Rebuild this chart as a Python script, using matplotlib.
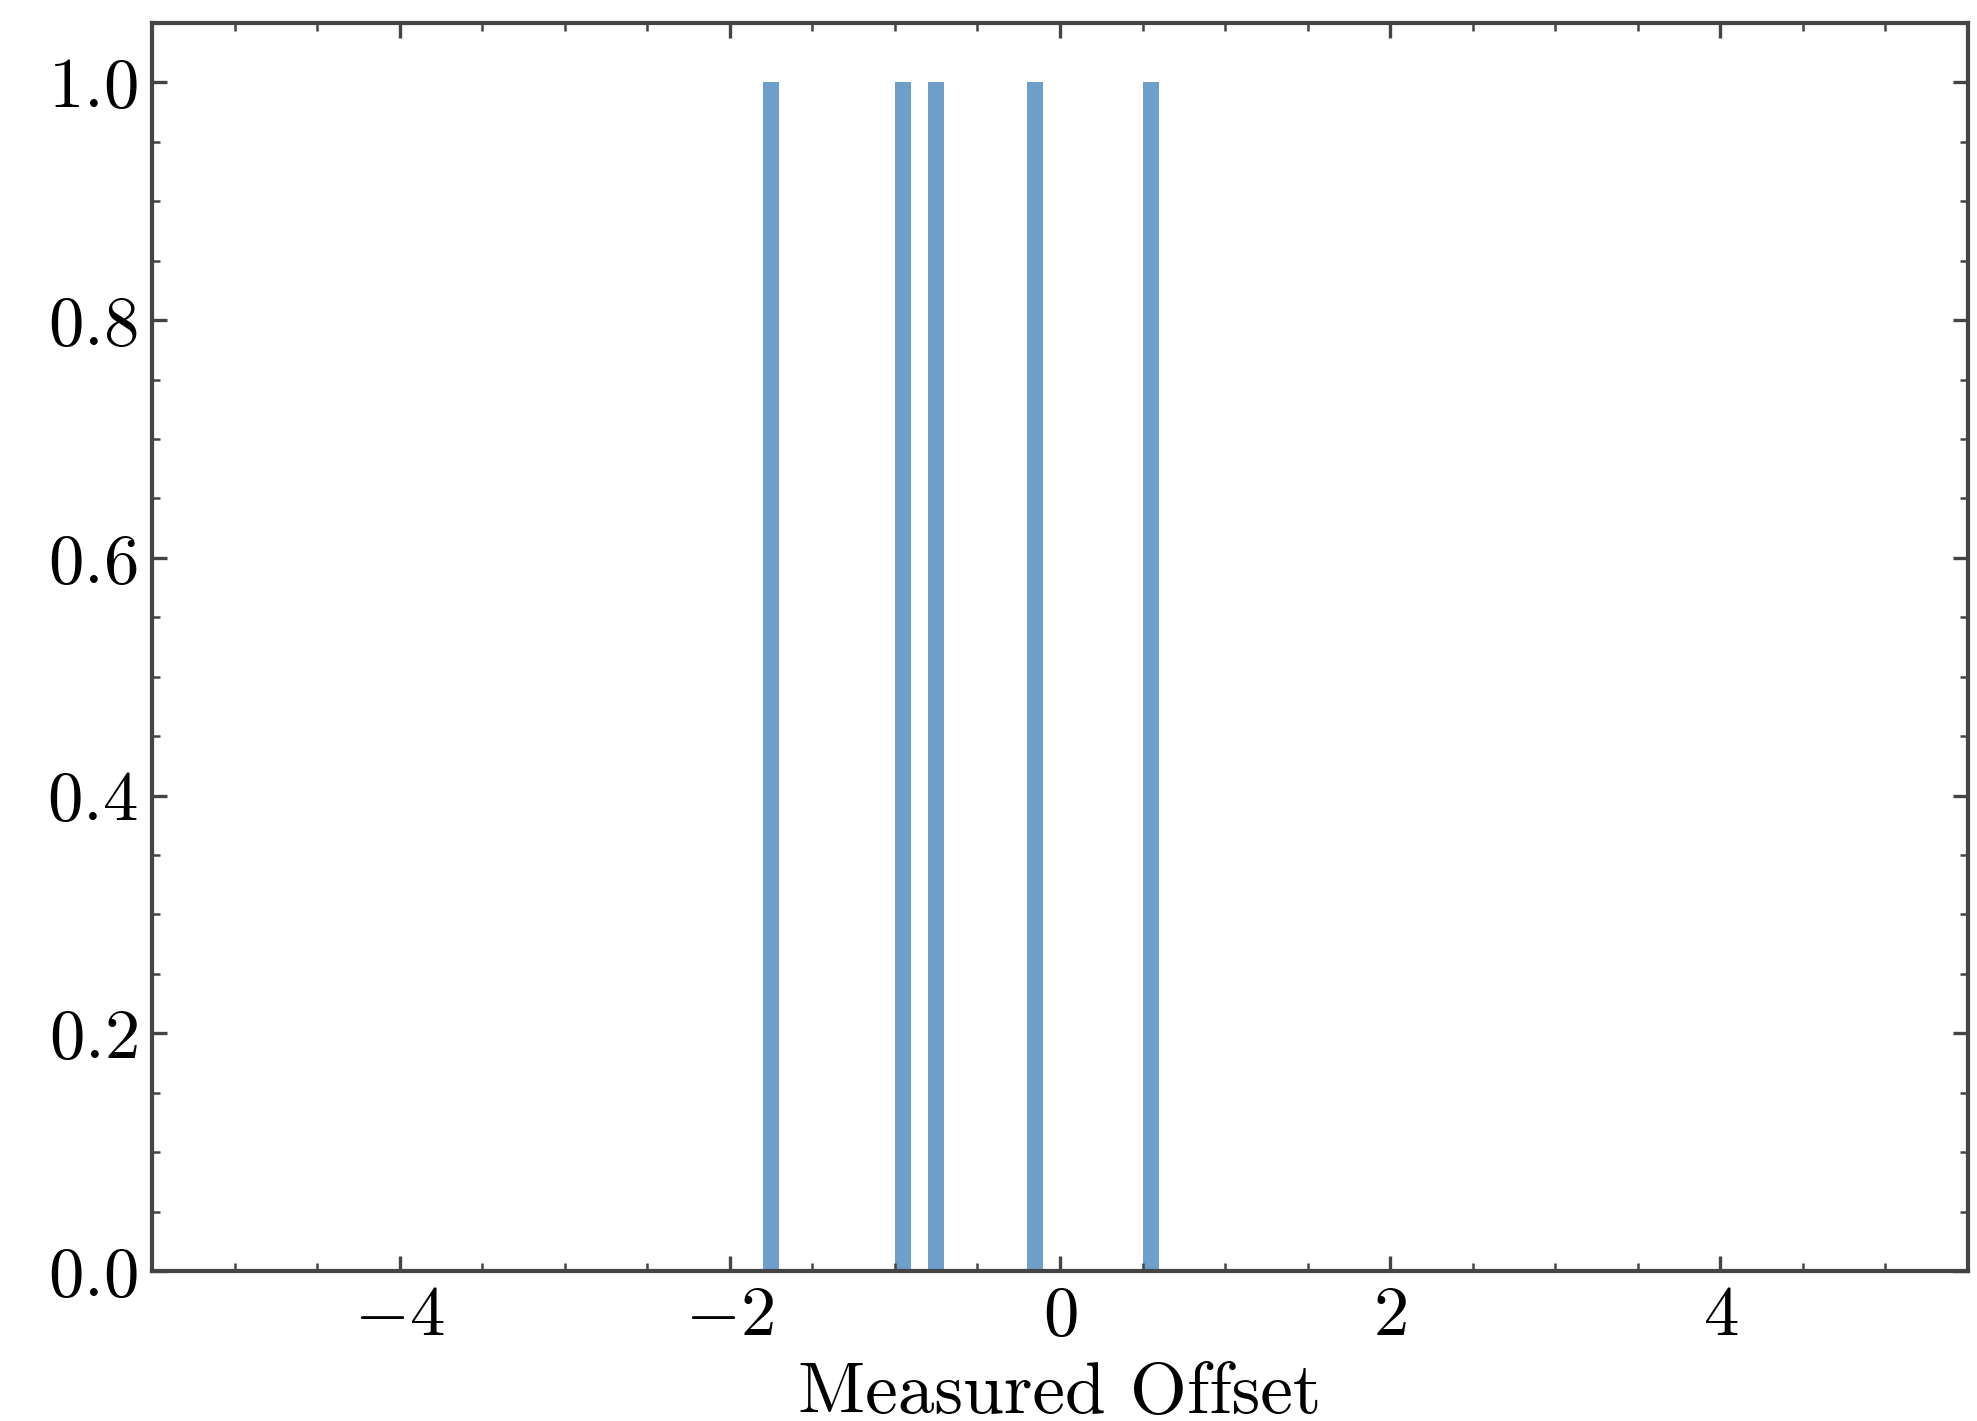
import matplotlib
matplotlib.use("Agg")
import matplotlib.pyplot as plt
from matplotlib.ticker import AutoMinorLocator

# Offsets measured (one sample per bin)
offsets = [-1.75, -0.95, -0.75, -0.15, 0.55]
n_bins = 100
hist_range = (-5, 5)

plt.rcParams["font.family"] = "cmr10"
plt.rcParams["mathtext.fontset"] = "cm"
plt.rcParams["axes.formatter.use_mathtext"] = True
plt.rcParams["axes.unicode_minus"] = True

fig = plt.figure(figsize=(1977 / 300, 1421 / 300), dpi=300)
ax = fig.add_axes([152 / 1977, 1 - 1271 / 1421, (1968 - 152) / 1977, (1271 - 23) / 1421])

ax.hist(offsets, bins=n_bins, range=hist_range, color="#6e9eca")

ax.set_xlabel("Measured Offset", fontsize=17.6, labelpad=3)

for side in ax.spines.values():
    side.set_color("#444444")
    side.set_linewidth(1.0)

ax.xaxis.set_minor_locator(AutoMinorLocator())
ax.yaxis.set_minor_locator(AutoMinorLocator())
ax.tick_params(which="both", direction="in", top=True, right=True,
               color="#444444", labelsize=17)
ax.tick_params(which="major", length=3.6, width=0.8)
ax.tick_params(which="minor", length=2.0, width=0.6)

fig.savefig("out.png", dpi=300)
